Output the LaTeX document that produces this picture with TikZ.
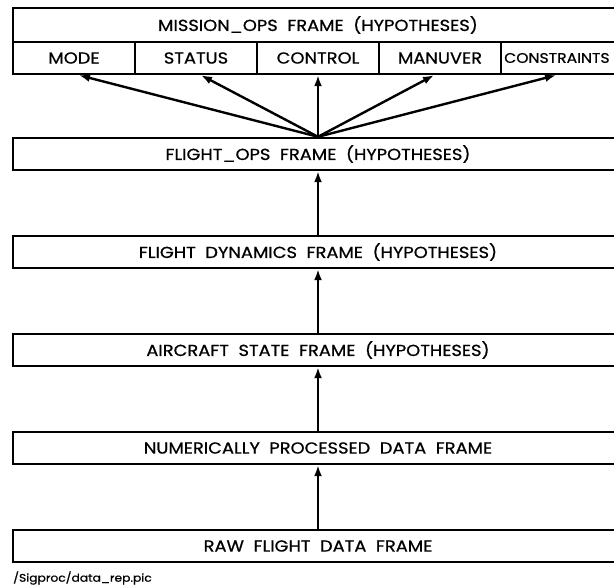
\documentclass[tikz,border=0pt]{standalone}
\usepackage{fontspec}
\setmainfont{Poppins}[FakeStretch=1.12,FakeBold=0.8]
\usetikzlibrary{arrows.meta,calc}
\begin{document}
\begin{tikzpicture}[x=1bp,y=-1bp,
  lbl/.style={font=\fontsize{16}{18}\selectfont},
  frame/.style={draw,line width=2.4bp,minimum width=610bp,minimum height=32bp,inner sep=0pt,lbl},
  subbox/.style={draw,line width=2.4bp,minimum width=122bp,minimum height=32bp,inner sep=0pt,lbl},
  titlebox/.style={draw,line width=2.4bp,minimum width=610bp,minimum height=34bp,inner sep=0pt,lbl},
  arr/.style={line width=2.4bp,-{Latex[length=11bp,width=8bp]}}]
\useasboundingbox (0,0) rectangle (614,588);
\clip (0,0) rectangle (614,588);
\node[titlebox] (mission) at (318,25) {MISSION\_OPS\ \ FRAME\ \ (HYPOTHESES)};
\node[subbox] (mode) at (74,58) {MODE};
\node[subbox] (status) at (196,58) {STATUS};
\node[subbox] (control) at (318,58) {CONTROL};
\node[subbox] (manuver) at (440,58) {MANUVER};
\node[subbox] (constraints) at (562,58) {};
\node[anchor=west,inner sep=0pt,font=\fontsize{14}{16}\selectfont] (ctext) at (504,58) {CONSTRAINTS};
\node[frame] (fops) at (318,154) {FLIGHT\_OPS\ \ FRAME\ \ (HYPOTHESES)};
\node[frame] (fdyn) at (318,252) {FLIGHT\ \ DYNAMICS\ \ FRAME\ \ (HYPOTHESES)};
\node[frame] (acs) at (318,350) {AIRCRAFT\ \ STATE\ \ FRAME\ \ (HYPOTHESES)};
\node[frame] (npd) at (318,448) {NUMERICALLY\ \ PROCESSED\ \ DATA\ \ FRAME};
\node[frame] (raw) at (318,546) {RAW\ \ FLIGHT\ \ DATA\ \ FRAME};
\node[anchor=west,inner sep=0pt,font=\fontsize{11}{13}\selectfont] (file) at (13,578) {/Sigproc/data\_rep.pic};
\draw[arr] (fops.north) -- ($(mode.south)+(5,0)$);
\draw[arr] (fops.north) -- ($(status.south)+(5,0)$);
\draw[arr] (fops.north) -- (control.south);
\draw[arr] (fops.north) -- ($(manuver.south)+(-6,0)$);
\draw[arr] (fops.north) -- ($(constraints.south)+(-6,0)$);
\draw[arr] (fdyn.north) -- (fops.south);
\draw[arr] (acs.north) -- (fdyn.south);
\draw[arr] (npd.north) -- (acs.south);
\draw[arr] (raw.north) -- (npd.south);
\end{tikzpicture}
\end{document}
